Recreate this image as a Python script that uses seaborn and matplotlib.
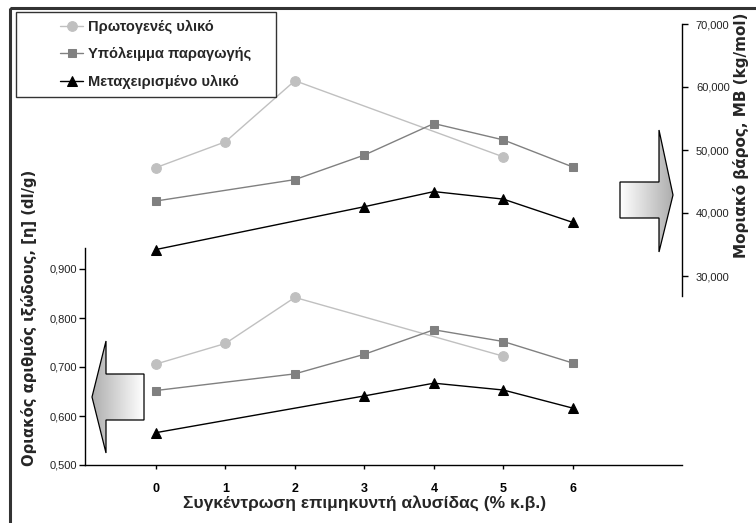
import numpy as np
import pandas as pd
import matplotlib
matplotlib.use("Agg")
import matplotlib.pyplot as plt
import seaborn as sns
from matplotlib.patches import Polygon, Rectangle
from matplotlib.legend_handler import HandlerLine2D
from matplotlib.ticker import FuncFormatter
from matplotlib.font_manager import FontProperties, findfont

# ---------------- data ----------------
series_names = ["Πρωτογενές υλικό", "Υπόλειμμα παραγωγής", "Μεταχειρισμένο υλικό"]
x_ticks = [0, 1, 2, 3, 4, 5, 6]

x_prim = [0, 1, 2, 5]
iv_prim = [0.706, 0.748, 0.842, 0.722]
mb_prim = [47200, 51300, 61000, 48900]

x_res = [0, 2, 3, 4, 5, 6]
iv_res = [0.652, 0.686, 0.726, 0.776, 0.752, 0.708]
mb_res = [41900, 45300, 49200, 54200, 51600, 47300]

x_proc = [0, 3, 4, 5, 6]
iv_proc = [0.566, 0.641, 0.667, 0.653, 0.616]
mb_proc = [34200, 41000, 43400, 42200, 38500]

left_ticks = [0.5, 0.6, 0.7, 0.8, 0.9]
right_ticks = [30000, 40000, 50000, 60000, 70000]

xlabel = "Συγκέντρωση επιμηκυντή αλυσίδας (% κ.β.)"
ylabel_left = "Οριακός αριθμός ιξώδους, [η] (dl/g)"
ylabel_right = "Μοριακό βάρος, ΜΒ (kg/mol)"

# ---------------- style ----------------
sns.set_theme(style="white")
plt.rcParams["font.family"] = ["Liberation Sans", "DejaVu Sans"]

BOLD_FAM = "Liberation Sans"
if "Bold" not in findfont(FontProperties(family="Liberation Sans", weight="bold")):
    BOLD_FAM = "Roboto"

W, H = 756, 523
fig = plt.figure(figsize=(W / 100, H / 100), dpi=100)
fig.patch.set_facecolor("white")

def fx(px):
    return px / W

def fy(py):
    return 1 - py / H

L, R, T, B = 85, 682, 24, 465
ax1 = fig.add_axes([fx(L), fy(B), fx(R - L), (B - T) / H])
ax1.patch.set_alpha(0)
ax2 = ax1.twinx()

styles = [
    dict(color="#c0c0c0", marker="o", ms=7),
    dict(color="#808080", marker="s", ms=6),
    dict(color="#000000", marker="^", ms=7),
]
groups = [(x_prim, iv_prim, mb_prim), (x_res, iv_res, mb_res), (x_proc, iv_proc, mb_proc)]

for (xs, ivs, mbs), st, name in zip(groups, styles, series_names):
    sns.lineplot(x=xs, y=ivs, ax=ax1, color=st["color"], marker=st["marker"],
                 markersize=st["ms"], markeredgecolor=st["color"], linewidth=1,
                 sort=False, legend=False)
    sns.lineplot(x=xs, y=mbs, ax=ax2, color=st["color"], marker=st["marker"],
                 markersize=st["ms"], markeredgecolor=st["color"], linewidth=1,
                 sort=False, legend=False, label=name)

ax1.set_xlim(-1.02, 7.57)
ax1.set_ylim(0.5, 1.4)
ax2.set_ylim(0, 70000)

for s in ["top", "right"]:
    ax1.spines[s].set_visible(False)
for s in ["top", "left", "bottom"]:
    ax2.spines[s].set_visible(False)
for sp in [ax1.spines["left"], ax1.spines["bottom"], ax2.spines["right"]]:
    sp.set_color("black")
    sp.set_linewidth(1.0)
ax1.spines["left"].set_bounds(0.5, 0.943)
ax2.spines["right"].set_bounds(26800, 70000)

ax1.set_xticks(x_ticks)
ax1.set_xticklabels([str(v) for v in x_ticks], fontsize=9, fontweight="bold", family=[BOLD_FAM])
ax1.set_yticks(left_ticks)
ax1.yaxis.set_major_formatter(FuncFormatter(lambda v, p: f"{v:.3f}".replace(".", ",")))
ax2.set_yticks(right_ticks)
ax2.yaxis.set_major_formatter(FuncFormatter(lambda v, p: f"{int(round(v)):,}"))

ax1.tick_params(axis="x", direction="out", length=3, width=1, pad=10, bottom=True, colors="black")
ax1.tick_params(axis="y", direction="out", length=4, width=1, pad=1.5, left=True,
                labelsize=8, colors="black")
ax2.tick_params(axis="y", direction="out", length=4, width=1, pad=6, right=True,
                labelsize=8, colors="black")
for lab in ax1.get_yticklabels() + ax2.get_yticklabels():
    lab.set_color("#222222")
ax1.grid(False)
ax2.grid(False)
ax1.set_xlabel("")
ax1.set_ylabel("")
ax2.set_ylabel("")

fig.text(fx(365), fy(503), xlabel, ha="center", va="center", fontsize=12.5, fontweight="bold",
         family=[BOLD_FAM, "DejaVu Sans"])
fig.text(fx(29), fy(318), ylabel_left, ha="center", va="center", rotation=90,
         fontsize=10.6, fontweight="bold", family=["DejaVu Sans"])
fig.text(fx(741), fy(135), ylabel_right, ha="center", va="center", rotation=90,
         fontsize=11, fontweight="bold", family=["DejaVu Sans"])

# legend
handles, labels = ax2.get_legend_handles_labels()
pad_labels = [lab + "    " for lab in labels]
leg_font = FontProperties(family=[BOLD_FAM, "DejaVu Sans"], weight="bold", size=10.5)
leg = ax2.legend(handles, pad_labels, loc="upper left",
                 bbox_to_anchor=(fx(16), fy(12)), bbox_transform=fig.transFigure,
                 frameon=True, fancybox=False, shadow=False, borderaxespad=0,
                 borderpad=0.52, labelspacing=0.93, handlelength=4.1, handletextpad=0.34,
                 handler_map={h: HandlerLine2D(xpad=2.53) for h in handles},
                 prop=leg_font)
leg.get_frame().set_edgecolor("black")
leg.get_frame().set_linewidth(1.0)
leg.get_frame().set_facecolor("white")

# overlay for arrows and frame
ov = fig.add_axes([0, 0, 1, 1])
ov.set_xlim(0, W)
ov.set_ylim(H, 0)
ov.axis("off")
ov.patch.set_alpha(0)

def grad_arrow(pts, left_gray, right_gray):
    poly = Polygon(pts, closed=True, facecolor="none", edgecolor="black", lw=0.9, zorder=3)
    ov.add_patch(poly)
    xs = [p[0] for p in pts]
    ys = [p[1] for p in pts]
    g = np.linspace(left_gray, right_gray, 256)[None, :]
    im = ov.imshow(np.repeat(g, 2, axis=0), cmap="gray", vmin=0, vmax=1, aspect="auto",
                   extent=(min(xs), max(xs), max(ys), min(ys)), zorder=2, interpolation="bilinear")
    im.set_clip_path(poly)

left_arrow = [(92, 397), (106, 341), (106, 374), (144, 374), (144, 420), (106, 420), (106, 453)]
right_arrow = [(620, 182), (659, 182), (659, 130), (673, 195), (659, 252), (659, 218), (620, 218)]
grad_arrow(left_arrow, 0.68, 1.0)
grad_arrow(right_arrow, 1.0, 0.68)
ov.set_xlim(0, W)
ov.set_ylim(H, 0)

ov.add_patch(Rectangle((10, 7.5), 800, 600, fill=False, edgecolor="#333333", lw=2.2, zorder=5))

fig.savefig("out.png", dpi=100)
